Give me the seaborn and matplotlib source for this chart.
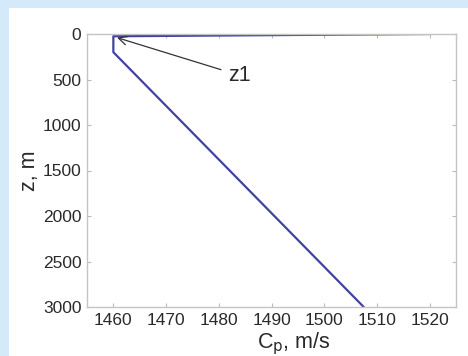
import matplotlib
matplotlib.use("Agg")
import matplotlib.pyplot as plt
from matplotlib.patches import Rectangle
import seaborn as sns
import pandas as pd

# Sound-speed profile: speed (m/s) versus depth (m)
depth_m = [0, 25, 200, 3000]
speed_ms = [1520, 1460, 1460, 1507.5]
x_ticks = [1460, 1470, 1480, 1490, 1500, 1510, 1520]
y_ticks = [0, 500, 1000, 1500, 2000, 2500, 3000]

profile = pd.DataFrame({"c": speed_ms, "z": depth_m})

sns.set_theme(style="white")
plt.rcParams["font.family"] = ["Liberation Sans", "DejaVu Sans"]

W, H = 468, 356
fig = plt.figure(figsize=(W / 100, H / 100), dpi=100, facecolor="#d4eafa")
# white panel inset inside the light-blue frame
fig.patches.append(Rectangle((9 / W, 0), 1 - 9 / W, 1 - 8 / H,
                             transform=fig.transFigure, facecolor="white",
                             edgecolor="none", zorder=-10))

ax = fig.add_axes([87 / W, 1 - 307 / H, (456 - 87) / W, (307 - 34) / H])
ax.set_facecolor("white")

sns.lineplot(data=profile, x="c", y="z", sort=False, estimator=None,
             color="#4242a2", linewidth=1.6, ax=ax)

ax.set_xlim(1455, 1525)
ax.set_ylim(3000, 0)
ax.set_xticks(x_ticks)
ax.set_yticks(y_ticks)
ax.tick_params(direction="in", length=3, width=0.8, color="#bbbbbb",
               labelsize=12.5, labelcolor="#2a2a2a", pad=4,
               top=True, right=True, bottom=True, left=True)
for s in ax.spines.values():
    s.set_color("#c4c4c4")
    s.set_linewidth(1.0)

ax.set_xlabel(r"C$_\mathrm{p}$, m/s", fontsize=15.5, color="#2a2a2a", labelpad=0)
ax.xaxis.set_label_coords(0.56, -0.085)
ax.set_ylabel("z, m", fontsize=15.5, color="#2a2a2a", labelpad=2)

ax.annotate("z1", xy=(1460.7, 40), xytext=(1481.8, 455),
            fontsize=15.5, color="#2a2a2a", ha="left", va="center",
            arrowprops=dict(arrowstyle="->", color="#333333", lw=0.9,
                            shrinkA=3, shrinkB=0))

fig.savefig("out.png", dpi=100, facecolor=fig.get_facecolor())
